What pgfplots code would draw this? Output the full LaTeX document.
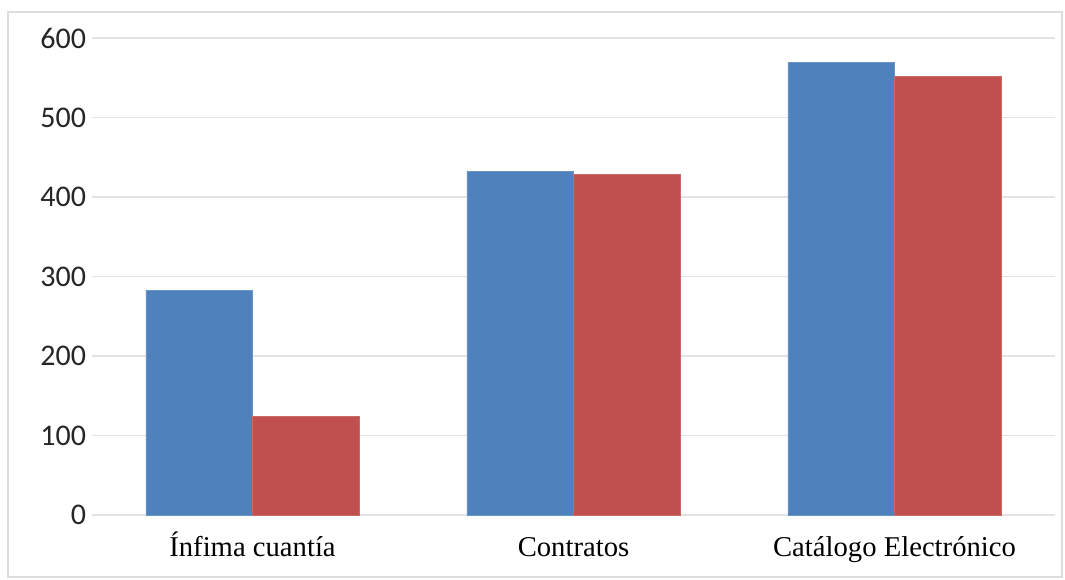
\documentclass[border=0pt]{standalone}
\usepackage{fontspec}
\setmainfont{Liberation Serif}
\newfontfamily\calibri{Carlito}
\usepackage{pgfplots}
\usetikzlibrary{calc}
\pgfplotsset{compat=1.18}
\definecolor{ublue}{HTML}{4F81BD}
\definecolor{ured}{HTML}{C0504D}
\definecolor{gridc}{HTML}{E3E3E3}
\definecolor{framec}{HTML}{DDDDDD}
\begin{document}
\begin{tikzpicture}
\begin{axis}[
  name=ax,
  scale only axis,
  width=722.25pt, height=357.75pt,
  ybar=0pt, bar width=79.9pt,
  xmin=-0.5, xmax=2.5,
  ymin=0, ymax=600,
  xtick=data,
  xticklabels={Ínfima cuantía, Contratos, Catálogo Electrónico},
  ytick={0,100,...,600},
  axis line style={draw=none},
  axis x line*=bottom,
  axis y line*=left,
  major tick length=0pt,
  ymajorgrids, grid style={gridc, line width=1.2pt},
  /pgf/number format/assume math mode=true,
  yticklabel style={font=\calibri\fontsize{22.5}{26}\selectfont, color=black!85, xshift=-1pt},
  xticklabel style={font=\fontsize{21.5}{26}\selectfont, anchor=base, yshift=-31.5pt},
  clip=false,
]
\addplot[fill=ublue, draw=ublue!85!white, line width=0.5pt] coordinates {(0,283) (1,432) (2,569)};
\addplot[fill=ured, draw=ured!85!white, line width=0.5pt] coordinates {(0,124) (1,428) (2,552)};
\end{axis}
\draw[framec, line width=1pt] ($(ax.south west)+(-63pt,-46.5pt)$) rectangle ($(ax.north east)+(5.25pt,19.5pt)$);
\path ($(ax.south west)+(-69pt,-48.75pt)$) rectangle ($(ax.north east)+(7.5pt,28.5pt)$);
\end{tikzpicture}
\end{document}
